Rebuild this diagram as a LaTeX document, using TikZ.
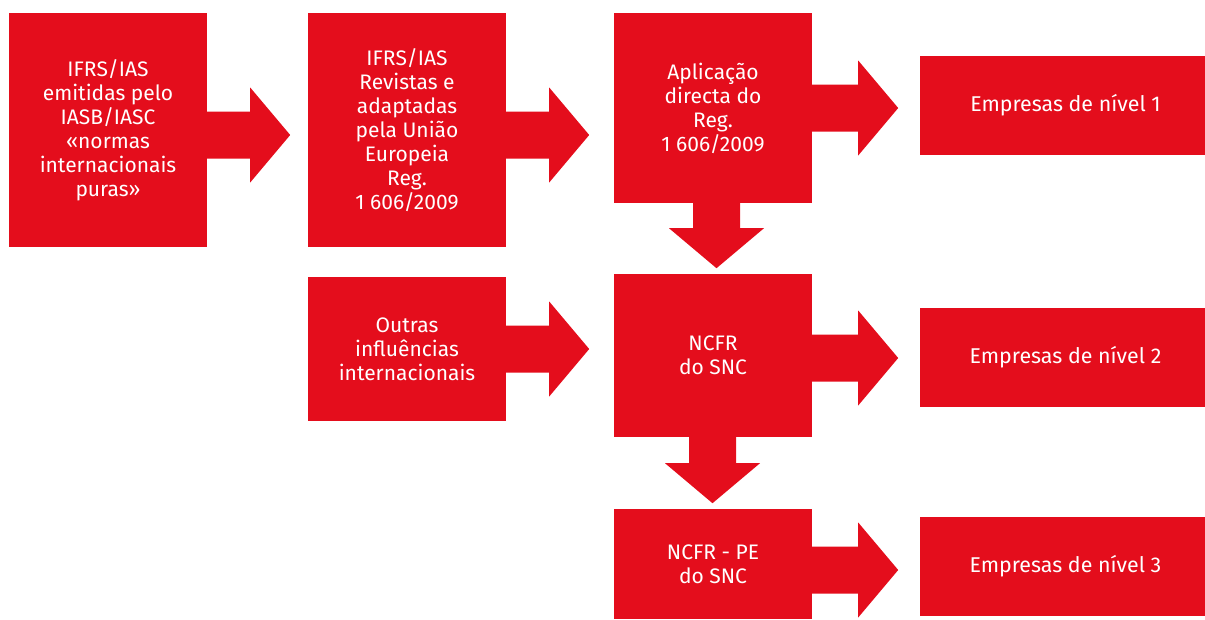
\documentclass[tikz,border=0pt]{standalone}
\usepackage{fontspec}
\setmainfont{Fira Sans}
\usetikzlibrary{calc}
\definecolor{bred}{RGB}{228,13,28}
\newcommand\blkright[2]{\fill[bred] ($(#1)+(0,-23.5)$) -- ++(#2,0) -- ++(0,-24) -- ++(40,47.5) -- ++(-40,47.5) -- ++(0,-24) -- ++(-#2,0) -- cycle;}
\newcommand\blkdown[2]{\fill[bred] ($(#1)+(-23.5,0)$) -- ++(0,#2) -- ++(-24,0) -- ++(47.5,40) -- ++(47.5,-40) -- ++(-24,0) -- ++(0,-#2) -- cycle;}
\begin{document}
\begin{tikzpicture}[x=1pt,y=-1pt,
  box/.style={fill=bred, text=white, align=center, inner sep=0pt, minimum width=198pt, font=\fontsize{21}{24}\selectfont},
  ebox/.style={fill=bred, text=white, align=center, inner sep=0pt, minimum width=285pt, minimum height=99pt, font=\fontsize{21.4}{24}\selectfont}]
\useasboundingbox (0,0) rectangle (1205,619);
\node[box, minimum height=234pt] (b1) at (108,130) {IFRS/IAS\\emitidas pelo\\IASB/IASC\\«normas\\internacionais\\puras»};
\node[box, minimum height=234pt] (b2) at (407,130) {IFRS/IAS\\Revistas e\\adaptadas\\pela União\\Europeia\\Reg.\\1 606/2009};
\node[box, minimum height=190pt] (b3) at (713,108) {Aplicação\\directa do\\Reg.\\1 606/2009};
\node[box, minimum height=144pt] (o) at (407,349) {Outras\\influências\\internacionais};
\node[box, minimum height=163pt] (b4) at (713,355.5) {NCFR\\do SNC};
\node[box, minimum height=110pt] (b5) at (713,564) {NCFR - PE\\do SNC};
\node[ebox] (e1) at (1062.5,105.5) {\hspace{6pt}Empresas de nível 1};
\node[ebox] (e2) at (1062.5,357.5) {\hspace{6pt}Empresas de nível 2};
\node[ebox] (e3) at (1062.5,566.5) {\hspace{6pt}Empresas de nível 3};
\blkright{$(b1.east)+(0,5)$}{43}
\blkright{$(b2.east)+(0,5)$}{43}
\blkright{o.east}{43}
\blkright{b3.east}{46}
\blkright{$(b4.east)+(0,2.5)$}{46}
\blkright{$(b5.east)+(0,6)$}{46}
\blkdown{$(b3.south)+(3.5,0)$}{25}
\blkdown{$(b4.south)+(-0.5,0)$}{26}
\end{tikzpicture}
\end{document}
